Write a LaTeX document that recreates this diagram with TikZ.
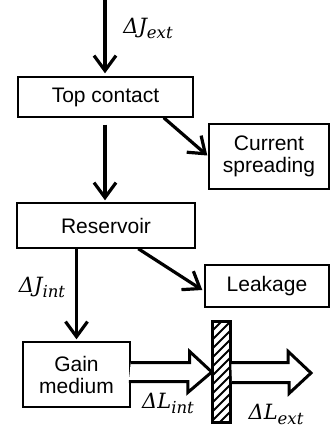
\documentclass[tikz,border=0pt]{standalone}
\usepackage{fontspec}
\setmainfont{Liberation Sans}
\newfontfamily\mfont{DejaVu Serif}
\usetikzlibrary{arrows.meta,calc}
\newcommand\dlab[2]{{\mfont\itshape\fontsize{21}{23}\selectfont Δ#1\raisebox{-5pt}{\fontsize{16.5}{17}\selectfont #2}}}
\begin{document}
\begin{tikzpicture}[x=1pt,y=-1pt,
  box/.style={draw,line width=1.4pt,inner sep=0pt,align=center,font=\fontsize{21}{24}\selectfont},
  flow/.style={line width=3.2pt,-{Straight Barb[length=15pt,width=22pt]}},
  hollow/.style={line width=3pt,fill=white,line join=miter},
  lab/.style={inner sep=0pt}]
\useasboundingbox[fill=white] (0,0) rectangle (331,429);
\node[box,minimum width=175,minimum height=40] (top) at (105.5,97) {Top contact};
\node[box,minimum width=120,minimum height=65] (cur) at (269,156.5) {Current\\[-2pt]spreading};
\node[box,minimum width=178,minimum height=45] (res) at (106,225.5) {Reservoir};
\node[box,minimum width=124,minimum height=42] (leak) at (267,286) {Leakage};
\node[box,minimum width=107,minimum height=65] (gain) at (76.5,374.5) {Gain\\[-2pt]medium};
\node[minimum width=17,minimum height=100,inner sep=0pt] (mir) at (221.5,372) {};
\coordinate (in) at (105,0);
\coordinate (out) at (311,373);
% hatch
\begin{scope}
\clip (mir.south west) rectangle (mir.north east);
\foreach \k in {-3,...,13}
  \draw[line width=2pt] (213,{322+9*\k+17}) -- (230,{322+9*\k});
\end{scope}
\draw[line width=3pt] (mir.south west) rectangle (mir.north east);
% arrows
\draw[flow,shorten >=3pt] (in) -- (top.north -| in);
\draw[flow,shorten <=7pt,shorten >=2pt] (top.south -| in) -- (res.north -| in);
\draw[flow] ($(top.south west)!0.83!(top.south east)$) -- ($(cur.west)+(-1,-1)$);
\draw[flow] ($(res.south west)!0.68!(res.south east)$) -- ($(leak.west)+(-2,4)$);
\draw[flow,shorten >=2pt] (gain.north |- res.south) -- (gain.north);
% hollow arrows
\draw[hollow] (gain.east |- mir.west) ++(0,-9.5) -- ++(59,0) -- ++(0,-11) -- ($(mir.west)+(-1,0)$) -- ++(-24,20.5) -- ++(0,-11) -- ++(-59,0);
\draw[hollow] (mir.east) ++(1,-9.5) -- ++(57,0) -- ++(0,-11) -- (out) -- ++(-22,20.5) -- ++(0,-11) -- ++(-57,0);
% labels
\node[lab] (lje) at (148,28) {\dlab{J}{ext}};
\node[lab] (lji) at (42,287) {\dlab{J}{int}};
\node[lab] (lli) at (168,403) {\dlab{L}{int}};
\node[lab] (lle) at (276,414) {\dlab{L}{ext}};
\end{tikzpicture}
\end{document}
